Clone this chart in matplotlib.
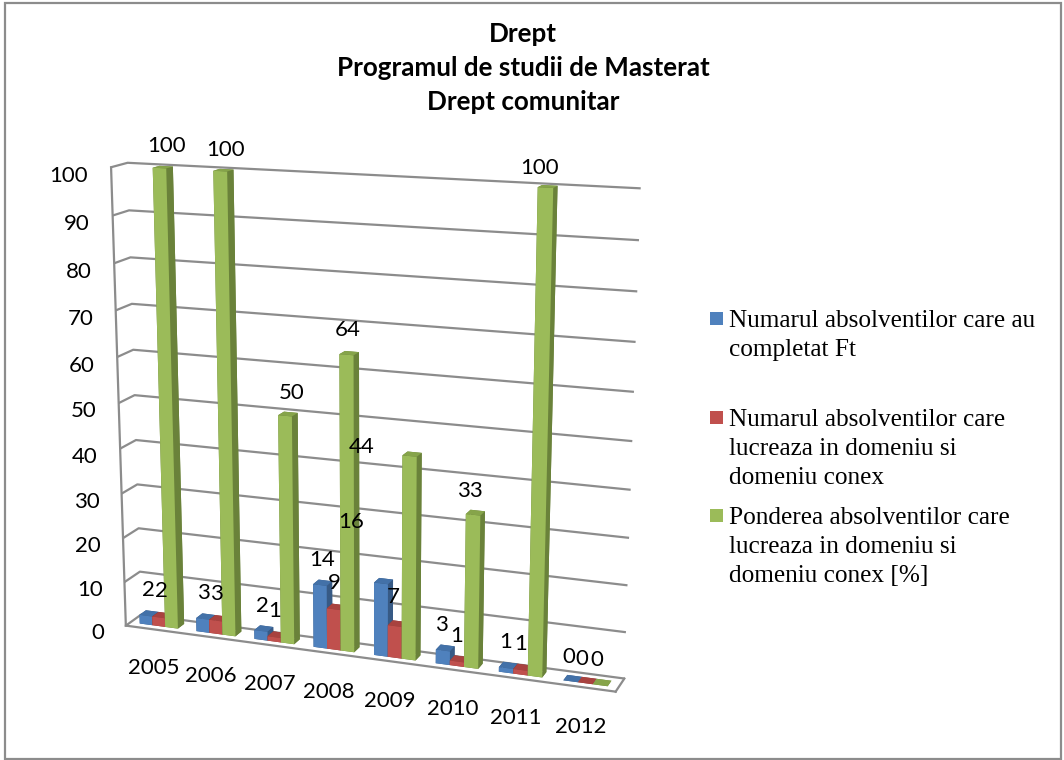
import numpy as np
import matplotlib
matplotlib.use("Agg")
import matplotlib.pyplot as plt
from matplotlib.patches import Rectangle
from mpl_toolkits.mplot3d import proj3d

years = ["2005", "2006", "2007", "2008", "2009", "2010", "2011", "2012"]
completat = [2, 3, 2, 14, 16, 3, 1, 0]
lucreaza = [2, 3, 1, 9, 7, 1, 1, 0]
ponderea = [100, 100, 50, 64, 44, 33, 100, 0]
series_names = ["Numarul absolventilor care au\ncompletat Ft",
                "Numarul absolventilor care\nlucreaza in domeniu si\ndomeniu conex",
                "Ponderea absolventilor care\nlucreaza in domeniu si\ndomeniu conex [%]"]
title_lines = "Drept\nProgramul de studii de Masterat\nDrept comunitar"
z_ticks = [0, 10, 20, 30, 40, 50, 60, 70, 80, 90, 100]

# culori: front, top, side
front = ["#4F81BD", "#C0504D", "#9BBB59"]
top = ["#4371A8", "#A8423F", "#86A44A"]
side = ["#375A85", "#863533", "#6A823A"]

fig = plt.figure(figsize=(10.64, 7.6), dpi=100)
ax = fig.add_axes([-0.0409, -0.0937, 0.75, 1.05], projection="3d", computed_zorder=False)
ax.patch.set_alpha(0)

ax.set_proj_type("persp", focal_length=0.4742)
ax.view_init(elev=14.627, azim=-69.603, roll=0.04)
ax.set_box_aspect((510, 34.94, 467.5), zoom=0.8818)
ax.set_xlim(0, 8, view_margin=0)
ax.set_ylim(0, 1, view_margin=0)
ax.set_zlim(0, 100, view_margin=0)

grey = "#8c8c8c"
for axis in (ax.xaxis, ax.yaxis, ax.zaxis):
    axis.set_pane_color((1, 1, 1, 0))
    axis.pane.set_edgecolor("none")
    axis.line.set_color(grey)
    axis.line.set_linewidth(1.6)
    axis._axinfo["tick"]["inward_factor"] = 0
    axis._axinfo["tick"]["outward_factor"] = 0
    axis._axinfo["grid"]["linewidth"] = 0
ax.zaxis._axinfo["grid"]["linewidth"] = 1.6
ax.zaxis._axinfo["grid"]["color"] = grey
ax.zaxis.pane.set_edgecolor(grey)
ax.zaxis.pane.set_linewidth(1.6)
ax.grid(True)

ax.set_xticks(np.arange(len(years)) + 0.5, years, fontsize=16, family="Lato")
ax.set_yticks([])
ax.set_zticks(z_ticks, [str(v) for v in z_ticks], fontsize=16, family="Lato", ha="right")
ax.zaxis.set_ticks_position("lower")
ax.tick_params(axis="x", pad=11)
ax.tick_params(axis="z", pad=6)

# barele, de la stanga la dreapta
bar_w = 0.225
bar_d = 0.42
start = 0.165
for i in range(len(years)):
    for s, values in enumerate([completat, lucreaza, ponderea]):
        # ordinea fetelor in bar3d: -z, +z, -y, +y, -x, +x
        colors = [side[s], top[s], front[s], side[s], side[s], side[s]]
        ax.bar3d(i + start + s * bar_w, 0.3, 0, bar_w, bar_d, values[i],
                 color=colors, shade=False, edgecolor="none", linewidth=0)

# etichete, mutate in pixeli ca in original
label_move = {(0, 0): (0, -1), (0, 1): (0, -1), (0, 2): (4, -4),
              (1, 0): (-2, -1), (1, 1): (-2, -1), (1, 2): (2, -5),
              (2, 0): (-1, -2), (2, 1): (-2, -1), (2, 2): (4, -4),
              (3, 0): (0, -2), (3, 1): (-2, -1), (3, 2): (-1, -2),
              (4, 0): (-32, 34), (4, 1): (-4, 2), (4, 2): (-50, -18),
              (5, 0): (-4, -2), (5, 1): (-3, -2), (5, 2): (-5, -3),
              (6, 0): (-3, -1), (6, 1): (-2, -2), (6, 2): (-8, -6),
              (7, 0): (-4, -3), (7, 1): (-5, -3), (7, 2): (-5, -2)}
M = ax.get_proj()
for i in range(len(years)):
    for s, values in enumerate([completat, lucreaza, ponderea]):
        px, py, _ = proj3d.proj_transform(i + start + (s + 0.5) * bar_w, 0.5, values[i], M)
        dx, dy = label_move[(i, s)]
        ax.annotate(str(values[i]), xy=(px, py), xycoords="data", xytext=(dx, 25 + dy),
                    textcoords="offset pixels", ha="center", va="center", fontsize=16,
                    family="Lato", color="black", annotation_clip=False)

fig.text(523 / 1064, 1 - 68 / 760, title_lines, ha="center", va="center", fontsize=18.75,
         fontweight="bold", family="Lato", linespacing=1.5)

# legenda
legend_y = [320, 419, 517]
for name, col, y in zip(series_names, front, legend_y):
    fig.add_artist(Rectangle((710 / 1064, 1 - (y + 5) / 760), 13 / 1064, 13 / 760,
                             transform=fig.transFigure, facecolor=col, edgecolor="none"))
    fig.text(729 / 1064, 1 - (y - 10) / 760, name, ha="left", va="top", fontsize=18.2,
             family="Liberation Serif", linespacing=1.42)

fig.add_artist(Rectangle((5 / 1064, 1 / 760), 1056 / 1064, 756 / 760, transform=fig.transFigure,
                         facecolor="none", edgecolor="#8c8c8c", linewidth=1.6))

fig.savefig("out.png", dpi=100)
